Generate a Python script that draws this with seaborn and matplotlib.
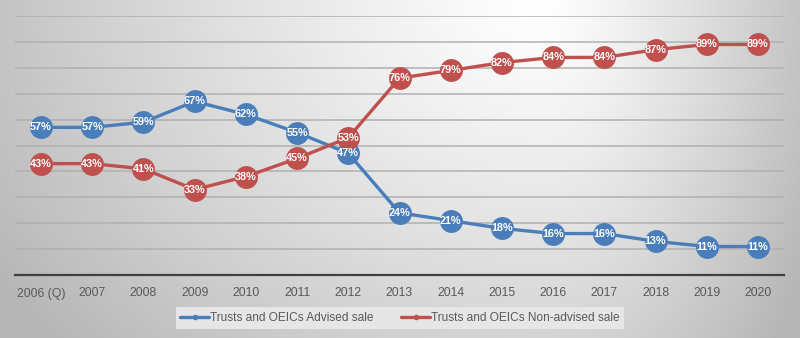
import numpy as np
import pandas as pd
import matplotlib
matplotlib.use("Agg")
import matplotlib.pyplot as plt
import seaborn as sns

years = ["2006 (Q)", "2007", "2008", "2009", "2010", "2011", "2012", "2013",
         "2014", "2015", "2016", "2017", "2018", "2019", "2020"]
advised = [57, 57, 59, 67, 62, 55, 47, 24, 21, 18, 16, 16, 13, 11, 11]
non_advised = [43, 43, 41, 33, 38, 45, 53, 76, 79, 82, 84, 84, 87, 89, 89]
series_names = ["Trusts and OEICs Advised sale", "Trusts and OEICs Non-advised sale"]
colors = ["#4a7ebb", "#c0504d"]

df = pd.DataFrame({
    "year": years * 2,
    "value": advised + non_advised,
    "series": [series_names[0]] * len(years) + [series_names[1]] * len(years),
})

sns.set_style("white")
plt.rcParams["font.family"] = ["Liberation Sans", "DejaVu Sans"]

W, H = 800, 338
fig = plt.figure(figsize=(W / 100, H / 100), dpi=100)

# background gradient
bg = fig.add_axes([0, 0, 1, 1], zorder=-10)
xx, yy = np.meshgrid(np.linspace(0, 1, 400), np.linspace(0, 1, 169))
cx, cy = 0.68, 0.0
sx = np.where(xx < cx, cx, 1 - cx)
d = np.sqrt(((xx - cx) / sx) ** 2 + ((yy - cy) / 1.3) ** 2)
val = 1.0 - 0.23 * np.clip(d, 0, 1.2) ** 1.2
img = np.dstack([val, val, val])
bg.imshow(img, aspect="auto", extent=[0, 1, 1, 0], interpolation="bilinear")
bg.set_xlim(0, 1); bg.set_ylim(1, 0)
bg.axis("off")

ax = fig.add_axes([15.4 / W, 1 - 275 / H, (783.6 - 15.4) / W, (275 - 16) / H])
ax.patch.set_alpha(0)

sns.lineplot(data=df, x="year", y="value", hue="series", palette=colors,
             marker="o", markersize=16.5, markeredgewidth=0, linewidth=2.4,
             sort=False, ax=ax, legend=True, clip_on=False)

for i, (a, b) in enumerate(zip(advised, non_advised)):
    ax.text(i, a, f"{a}%", ha="center", va="center", color="white",
            fontsize=7.8, fontweight="bold", zorder=10)
    ax.text(i, b, f"{b}%", ha="center", va="center", color="white",
            fontsize=7.8, fontweight="bold", zorder=10)

ax.set_xlim(-0.5, len(years) - 0.5)
ax.set_ylim(0, 100)
ax.set_yticks(range(10, 101, 10))
ax.set_yticklabels([])
ax.yaxis.grid(True, color="#b0b0b0", linewidth=1.1)
ax.set_axisbelow(True)
ax.tick_params(axis="both", length=0)
ax.tick_params(axis="x", colors="#595959", labelsize=8.8, pad=9)
ax.set_xlabel("")
ax.set_ylabel("")
for s in ["top", "right", "left"]:
    ax.spines[s].set_visible(False)
ax.spines["bottom"].set_color("#404040")
ax.spines["bottom"].set_linewidth(1.6)

handles, labels = ax.get_legend_handles_labels()
ax.legend_.remove()
for h in handles:
    h.set_markersize(4)
leg = fig.legend(handles, labels, loc="center", bbox_to_anchor=(0.5, 1 - 318 / H),
                 ncol=2, frameon=True, fancybox=False, facecolor="#e6e6e6",
                 edgecolor="none", framealpha=1, fontsize=8.6,
                 handlelength=2.4, handletextpad=0.1, columnspacing=2.3,
                 borderpad=0.4)
for t in leg.get_texts():
    t.set_color("#595959")

fig.savefig("out.png", dpi=100)
